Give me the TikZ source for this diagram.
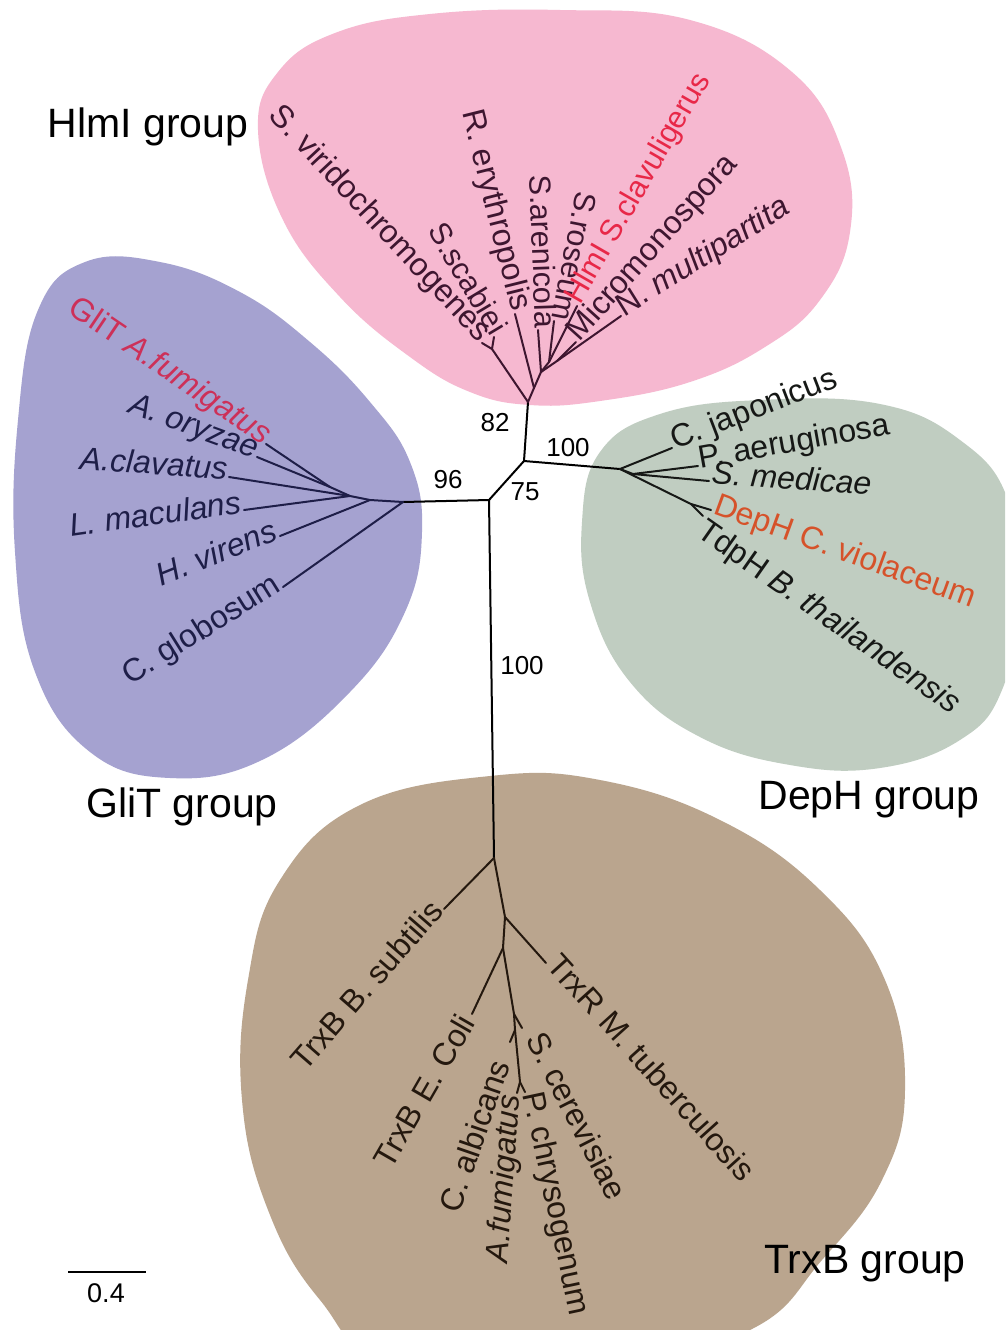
\documentclass[tikz,border=0pt]{standalone}
\usepackage{fontspec}
\setmainfont{Liberation Sans}
\definecolor{pinkfill}{RGB}{246,184,208}
\definecolor{purplefill}{RGB}{165,162,208}
\definecolor{greenfill}{RGB}{192,205,193}
\definecolor{brownfill}{RGB}{186,165,142}
\definecolor{pinktext}{RGB}{62,22,48}
\definecolor{purpletext}{RGB}{30,30,72}
\definecolor{greentext}{RGB}{22,24,22}
\definecolor{browntext}{RGB}{36,24,14}
\definecolor{hlmired}{RGB}{232,40,72}
\definecolor{glitred}{RGB}{205,48,88}
\definecolor{dephred}{RGB}{214,82,42}
\tikzset{
  br/.style={line width=2pt, line cap=round, line join=round},
  sp/.style={font=\fontsize{32}{36}\selectfont, inner sep=2pt},
  spp/.style={font=\fontsize{30.5}{34}\selectfont, inner sep=1.5pt},
  grp/.style={font=\fontsize{41}{46}\selectfont, inner sep=0pt},
  bs/.style={font=\fontsize{26}{30}\selectfont, inner sep=0pt},
}
\begin{document}
\begin{tikzpicture}[x=1pt,y=-1pt]
\useasboundingbox (0,0) rectangle (1005,1330);
\clip (0,0) rectangle (1005,1330);
\fill[white] (0,0) rectangle (1005,1330);
% blobs
\fill[pinkfill] plot[smooth cycle, tension=0.7] coordinates {(258,130) (278,72) (335,33) (430,14) (560,10) (690,20) (792,72) (842,150) (850,232) (820,300) (765,347) (690,382) (600,401) (530,405) (470,392) (410,357) (340,297) (283,220)};
\fill[purplefill] plot[smooth cycle, tension=0.7] coordinates {(18,420) (38,310) (85,262) (160,262) (240,292) (310,342) (370,402) (410,462) (422,532) (405,612) (350,692) (262,760) (170,778) (90,752) (35,672) (15,552)};
\fill[greenfill] plot[smooth cycle, tension=0.7] coordinates {(600,452) (660,414) (760,400) (880,404) (960,440) (1008,500) (1018,600) (1002,690) (960,740) (880,768) (790,765) (700,737) (630,682) (590,602) (582,522)};
\fill[brownfill] plot[smooth cycle, tension=0.7] coordinates {(490,776) (600,780) (720,820) (820,890) (885,980) (905,1090) (882,1180) (822,1260) (750,1330) (600,1370) (400,1370) (320,1300) (268,1210) (242,1100) (248,980) (280,880) (360,805)};
% central tree coordinates
\coordinate (A) at (489,500);
\coordinate (B) at (524,461);
\coordinate (G0) at (403,502);
\coordinate (D0) at (620,469);
\coordinate (R) at (528,402);
\coordinate (T1) at (494,858);
\draw[br,black] (G0) -- (A) -- (B) -- (D0);
\draw[br,black] (B) -- (R);
\draw[br,black] (A) -- (T1);
% HlmI subtree
\coordinate (F1) at (492,349);
\coordinate (tvir) at (482,343);
\coordinate (tsca) at (494,337);
\coordinate (H1) at (534,388);
\coordinate (tery) at (515,314);
\coordinate (H2) at (541,372);
\coordinate (tare) at (538,330);
\coordinate (H3) at (549,362);
\coordinate (tros) at (554,321);
\coordinate (tcla) at (577,306);
\coordinate (H4) at (557,361);
\coordinate (tmic) at (576,342);
\coordinate (tnmu) at (621,316);
\draw[br,pinktext] (R) -- (F1) -- (tvir);
\draw[br,pinktext] (F1) -- (tsca);
\draw[br,pinktext] (R) -- (H1) -- (tery);
\draw[br,pinktext] (H1) -- (H2) -- (tare);
\draw[br,pinktext] (H2) -- (H3) -- (tros);
\draw[br,pinktext] (H3) -- (tcla);
\draw[br,pinktext] (H2) -- (H4) -- (tnmu);
\draw[br,pinktext] (H4) -- (tmic);
\node[sp,text=pinktext,anchor=mid east,rotate=-47] (lvir) at (tvir) {S. viridochromogenes};
\node[spp,text=pinktext,anchor=mid east,rotate=-59] (lsca) at (tsca) {S.scabiei};
\node[sp,text=pinktext,anchor=mid east,rotate=-76] (lery) at (tery) {R. erythropolis};
\node[spp,text=pinktext,anchor=mid east,rotate=-88] (lare) at (tare) {S.arenicola};
\node[spp,text=pinktext,anchor=mid east,rotate=-101] (lros) at (tros) {S.roseum};
\node[spp,text=hlmired,anchor=mid west,rotate=60] (lcla) at (tcla) {HlmI S.clavuligerus};
\node[sp,text=pinktext,anchor=mid west,rotate=48] (lmic) at (tmic) {Micromonospora};
\node[sp,text=pinktext,anchor=mid west,rotate=32] (lnmu) at (tnmu) {N. \textit{multipartita}};
% GliT subtree
\coordinate (G1) at (370,500);
\coordinate (G2) at (350,496);
\coordinate (G3) at (330,487);
\coordinate (tglo) at (283,587);
\coordinate (thvi) at (280,536);
\coordinate (tmac) at (244,510);
\coordinate (tcl2) at (229,477);
\coordinate (tory) at (257,457);
\coordinate (tfum) at (266,444);
\draw[br,purpletext] (G0) -- (tglo);
\draw[br,purpletext] (G0) -- (G1) -- (thvi);
\draw[br,purpletext] (G1) -- (G2) -- (tmac);
\draw[br,purpletext] (G2) -- (tcl2);
\draw[br,purpletext] (G2) -- (G3) -- (tory);
\draw[br,purpletext] (G3) -- (tfum);
\node[sp,text=glitred,anchor=mid east,rotate=-34] (lfum) at (tfum) {GliT \textit{A.fumigatus}};
\node[sp,text=purpletext,anchor=mid east,rotate=-20] (lory) at (tory) {\textit{A. oryzae}};
\node[sp,text=purpletext,anchor=mid east,rotate=-4] (lcl2) at (tcl2) {\textit{A.clavatus}};
\node[sp,text=purpletext,anchor=mid east,rotate=8] (lmac) at (tmac) {\textit{L. maculans}};
\node[sp,text=purpletext,anchor=mid east,rotate=22] (lhvi) at (thvi) {\textit{H. virens}};
\node[sp,text=purpletext,anchor=mid east,rotate=32] (lglo) at (tglo) {C. globosum};
% DepH subtree
\coordinate (D1) at (633,474);
\coordinate (D2) at (691,504);
\coordinate (tjap) at (672,448);
\coordinate (taer) at (698,466);
\coordinate (tmed) at (709,481);
\coordinate (tdep) at (711,510);
\coordinate (ttdp) at (703,516);
\draw[br,greentext] (D0) -- (tjap);
\draw[br,greentext] (D0) -- (D1) -- (taer);
\draw[br,greentext] (D1) -- (tmed);
\draw[br,greentext] (D0) -- (D2) -- (tdep);
\draw[br,greentext] (D2) -- (ttdp);
\node[sp,text=greentext,anchor=mid west,rotate=21] (ljap) at (tjap) {C. japonicus};
\node[sp,text=greentext,anchor=mid west,rotate=10] (laer) at (taer) {P. aeruginosa};
\node[sp,text=greentext,anchor=mid west,rotate=-4] (lmed) at (tmed) {\textit{S. medicae}};
\node[sp,text=dephred,anchor=mid west,rotate=-20] (ldep) at (tdep) {DepH C. violaceum};
\node[sp,text=greentext,anchor=mid west,rotate=-35] (ltdp) at (695,532) {TdpH \textit{B. thailandensis}};
% TrxB subtree
\coordinate (T2) at (505,917);
\coordinate (T3) at (503,948);
\coordinate (T4) at (514,1014);
\coordinate (T5) at (515,1030);
\coordinate (T6) at (520,1082);
\coordinate (tsub) at (444,909);
\coordinate (ttub) at (546,963);
\coordinate (tcol) at (472,1014);
\coordinate (tcer) at (522,1028);
\coordinate (talb) at (510,1042);
\coordinate (tafu) at (517,1093);
\coordinate (tpch) at (525,1092);
\draw[br,browntext] (T1) -- (tsub);
\draw[br,browntext] (T1) -- (T2) -- (ttub);
\draw[br,browntext] (T2) -- (T3) -- (tcol);
\draw[br,browntext] (T3) -- (T4) -- (tcer);
\draw[br,browntext] (T4) -- (T5) -- (talb);
\draw[br,browntext] (T5) -- (T6) -- (tafu);
\draw[br,browntext] (T6) -- (tpch);
\node[sp,text=browntext,anchor=mid east,rotate=49] (lsub) at (tsub) {TrxB B. subtilis};
\node[sp,text=browntext,anchor=mid west,rotate=-48] (ltub) at (ttub) {TrxR M. tuberculosis};
\node[sp,text=browntext,anchor=mid east,rotate=60] (lcol) at (475,1020) {TrxB E. Coli};
\node[sp,text=browntext,anchor=mid east,rotate=71] (lalb) at (509,1062) {C. albicans};
\node[sp,text=browntext,anchor=mid east,rotate=86] (lafu) at (tafu) {\textit{A.fumigatus}};
\node[sp,text=browntext,anchor=mid west,rotate=-78] (lpch) at (tpch) {P. chrysogenum};
\node[sp,text=browntext,anchor=mid west,rotate=-63] (lcer) at (527,1036) {S. cerevisiae};
% bootstrap values
\node[bs] (b82) at (495,423) {82};
\node[bs] (b100a) at (568,448) {100};
\node[bs] (b96) at (448,480) {96};
\node[bs] (b75) at (525,492) {75};
\node[bs] (b100b) at (522,666) {100};
% group labels
\node[grp] (ghlmi) at (148,127) {HlmI group};
\node[grp] (gglit) at (182,807) {GliT group};
\node[grp] (gdeph) at (869,800) {DepH group};
\node[grp] (gtrxb) at (865,1264) {TrxB group};
% scale bar
\coordinate (s1) at (68,1272);
\coordinate (s2) at (146,1272);
\draw[line width=2.5pt,black] (s1) -- (s2);
\node[font=\fontsize{27}{30}\selectfont, inner sep=0pt] (slab) at (106,1293) {0.4};
\end{tikzpicture}
\end{document}
